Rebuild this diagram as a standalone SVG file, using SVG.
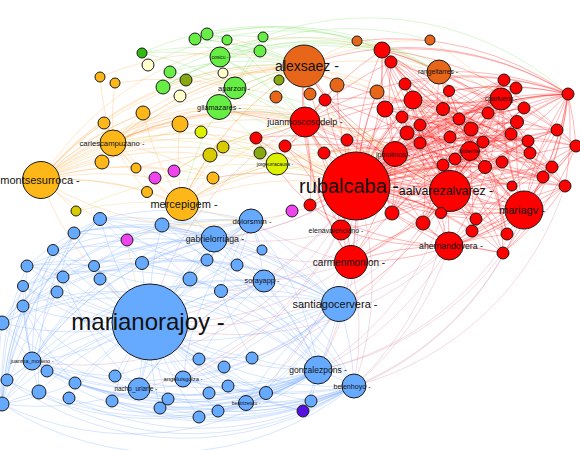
<svg xmlns="http://www.w3.org/2000/svg" width="580" height="450" viewBox="0 0 580 450">
<style>
.n circle{stroke:#1a1a1a;stroke-width:1}
.r{fill:#ff0000}.b{fill:#66aaff}.o{fill:#fdb719}.do{fill:#e8661a}.g{fill:#66ee44}.dg{fill:#33bb11}.ol{fill:#88a811}.y{fill:#d8cc00}.yg{fill:#ddf000}.ly{fill:#ffffcc}.m{fill:#ee44ee}.p{fill:#5511dd}
text{font-family:"Liberation Sans",Arial,sans-serif;text-anchor:middle;fill:#111}
#edges path{fill:none;stroke-width:.75}
.er{stroke:#ff1a1a;stroke-opacity:.42}
.eb{stroke:#7fb0ff;stroke-opacity:.42}
.eo{stroke:#ffa030;stroke-opacity:.34}
.eg{stroke:#80e060;stroke-opacity:.38}
.ep{stroke:#c86a90;stroke-opacity:.32}
.ey{stroke:#d0c830;stroke-opacity:.32}
</style>
<rect width="580" height="450" fill="#fff"/>
<g id="edges">
<path class="er" d="M356 186A300 300 0 0 1 450 191M356 186A300 300 0 0 1 524 210M356 186A300 300 0 0 1 449 246M356 186A300 300 0 0 1 351 262M356 186A300 300 0 0 1 305 122M356 186A300 300 0 0 1 395 154M356 186A300 300 0 0 1 501 99M356 186A300 300 0 0 1 341 230M356 186A300 300 0 0 1 382 50M356 186A300 300 0 0 1 391 62M356 186A300 300 0 0 1 405 84M356 186A300 300 0 0 1 413 100M356 186A300 300 0 0 1 385 109M356 186A300 300 0 0 1 402 117M356 186A300 300 0 0 1 420 125M356 186A300 300 0 0 1 407 133M356 186A300 300 0 0 1 420 143M356 186A300 300 0 0 1 325 100M356 186A300 300 0 0 1 347 140M356 186A300 300 0 0 1 324 153"/>
<path class="er" d="M356 186A300 300 0 0 1 285 146M356 186A300 300 0 0 1 449 91M356 186A300 300 0 0 1 504 80M356 186A300 300 0 0 1 516 88M356 186A300 300 0 0 1 524 108M356 186A300 300 0 0 1 568 94M356 186A300 300 0 0 1 488 113M356 186A300 300 0 0 1 443 109M356 186A300 300 0 0 1 459 119M356 186A300 300 0 0 1 471 129M356 186A300 300 0 0 1 517 122M356 186A300 300 0 0 1 557 130M356 186A300 300 0 0 1 511 134M356 186A300 300 0 0 1 450 137M356 186A300 300 0 0 1 483 142M356 186A300 300 0 0 1 528 141M356 186A300 300 0 0 1 470 151M356 186A300 300 0 0 1 530 153M356 186A300 300 0 0 1 576 146M356 186A300 300 0 0 1 455 159"/>
<path class="er" d="M356 186A300 300 0 0 1 485 167M356 186A300 300 0 0 1 502 162M356 186A300 300 0 0 1 443 165M356 186A300 300 0 0 1 552 167M356 186A300 300 0 0 1 543 177M356 186A300 300 0 0 1 565 186M356 186A300 300 0 0 1 512 186M356 186A300 300 0 0 1 392 213M356 186A300 300 0 0 1 441 213M356 186A300 300 0 0 1 423 223M356 186A300 300 0 0 1 476 219M356 186A300 300 0 0 1 472 231M356 186A300 300 0 0 1 507 234M356 186A300 300 0 0 1 503 253M356 186A300 300 0 0 1 310 205M356 186A300 300 0 0 1 256 138M356 186A300 300 0 0 1 304 66M356 186A300 300 0 0 1 439 72M356 186A300 300 0 0 1 377 92M356 186A300 300 0 0 1 337 85"/>
<path class="er" d="M356 186A300 300 0 0 0 420 125M356 186A300 300 0 0 0 471 129M356 186A300 300 0 0 0 517 122M356 186A300 300 0 0 0 483 142M356 186A300 300 0 0 0 530 153M356 186A300 300 0 0 0 552 167M356 186A300 300 0 0 0 476 219M356 186A300 300 0 0 0 503 253M356 186A300 300 0 0 0 413 100M356 186A300 300 0 0 0 449 91M356 186A300 300 0 0 0 504 80M356 186A300 300 0 0 0 382 50M356 186A300 300 0 0 0 568 94M356 186A300 300 0 0 0 576 146M356 186A300 300 0 0 0 565 186M356 186A300 300 0 0 0 524 108M356 186A300 300 0 0 0 443 109M356 186A300 300 0 0 0 459 119"/>
<path class="er" d="M450 191A300 300 0 0 1 305 122M450 191A300 300 0 0 1 395 154M450 191A300 300 0 0 1 501 99M450 191A300 300 0 0 1 382 50M450 191A300 300 0 0 1 405 84M450 191A300 300 0 0 1 413 100M450 191A300 300 0 0 1 385 109M450 191A300 300 0 0 1 420 125M450 191A300 300 0 0 1 449 91M450 191A300 300 0 0 1 504 80M450 191A300 300 0 0 1 524 108M450 191A300 300 0 0 1 568 94M450 191A300 300 0 0 1 488 113M450 191A300 300 0 0 1 459 119M450 191A300 300 0 0 1 471 129M450 191A300 300 0 0 1 517 122M450 191A300 300 0 0 1 557 130M450 191A300 300 0 0 1 483 142"/>
<path class="er" d="M450 191A300 300 0 0 1 528 141M450 191A300 300 0 0 1 470 151M450 191A300 300 0 0 1 576 146M450 191A300 300 0 0 1 485 167M450 191A300 300 0 0 1 552 167M450 191A300 300 0 0 1 565 186M450 191A300 300 0 0 1 392 213M450 191A300 300 0 0 1 423 223M450 191A300 300 0 0 1 476 219M450 191A300 300 0 0 1 507 234M450 191A300 300 0 0 1 503 253M450 191A300 300 0 0 1 351 262M450 191A300 300 0 0 1 341 230M450 191A300 300 0 0 1 304 66M450 191A300 300 0 0 1 439 72M450 191A300 300 0 0 1 339 304M450 191A300 300 0 0 1 324 153M450 191A300 300 0 0 1 347 140"/>
<path class="er" d="M524 210A300 300 0 0 1 356 186M524 210A300 300 0 0 1 395 154M524 210A300 300 0 0 1 501 99M524 210A300 300 0 0 1 382 50M524 210A300 300 0 0 1 413 100M524 210A300 300 0 0 1 449 91M524 210A300 300 0 0 1 504 80M524 210A300 300 0 0 1 568 94M524 210A300 300 0 0 1 459 119M524 210A300 300 0 0 1 517 122M524 210A300 300 0 0 1 557 130M524 210A300 300 0 0 1 470 151M524 210A300 300 0 0 1 576 146M524 210A300 300 0 0 1 552 167M524 210A300 300 0 0 1 565 186M524 210A300 300 0 0 1 441 213M524 210A300 300 0 0 1 472 231M524 210A300 300 0 0 1 449 246M524 210A300 300 0 0 1 351 262M524 210A300 300 0 0 1 305 122M524 210A300 300 0 0 1 439 72M524 210A300 300 0 0 1 304 66"/>
<path class="er" d="M395 154A300 300 0 0 1 305 122M395 154A300 300 0 0 1 382 50M395 154A300 300 0 0 1 391 62M395 154A300 300 0 0 1 413 100M395 154A300 300 0 0 1 420 143M395 154A300 300 0 0 1 501 99M395 154A300 300 0 0 1 449 91M395 154A300 300 0 0 1 568 94M395 154A300 300 0 0 1 471 129M395 154A300 300 0 0 1 528 141M395 154A300 300 0 0 1 485 167M395 154A300 300 0 0 1 449 246M395 154A300 300 0 0 1 351 262M395 154A300 300 0 0 1 341 230M395 154A300 300 0 0 1 304 66M395 154A300 300 0 0 1 443 165M395 154A300 300 0 0 1 392 213"/>
<path class="er" d="M501 99A300 300 0 0 1 382 50M501 99A300 300 0 0 1 439 72M501 99A300 300 0 0 1 413 100M501 99A300 300 0 0 1 420 125M501 99A300 300 0 0 1 443 109M501 99A300 300 0 0 1 557 130M501 99A300 300 0 0 1 568 94M501 99A300 300 0 0 1 483 142M501 99A300 300 0 0 1 470 151M501 99A300 300 0 0 1 530 153M501 99A300 300 0 0 1 449 246M501 99A300 300 0 0 1 305 122M501 99A300 300 0 0 1 304 66M501 99A300 300 0 0 1 351 262"/>
<path class="er" d="M568 94A300 300 0 0 0 304 66M568 94A300 300 0 0 0 382 50M568 94A300 300 0 0 0 357 41M568 94A300 300 0 0 0 439 72M568 94A300 300 0 0 0 305 122M568 94A300 300 0 0 0 413 100M568 94A300 300 0 0 0 405 84M568 94A300 300 0 0 0 449 91M568 94A300 300 0 0 0 471 129M568 94A300 300 0 0 0 420 143M568 94A300 300 0 0 0 443 165M568 94A300 300 0 0 0 395 154M568 94A300 300 0 0 1 449 246M568 94A300 300 0 0 1 503 253M568 94A300 300 0 0 1 524 210M568 94A300 300 0 0 1 576 146M568 94A300 300 0 0 1 552 167M568 94A300 300 0 0 1 507 234M568 94A300 300 0 0 1 565 186"/>
<path class="er" d="M576 146A300 300 0 0 0 382 50M576 146A300 300 0 0 0 439 72M576 146A300 300 0 0 0 413 100M576 146A300 300 0 0 0 395 154M576 146A300 300 0 0 1 449 246M576 146A300 300 0 0 1 503 253M576 146A300 300 0 0 1 472 231M565 186A300 300 0 0 1 449 246M565 186A300 300 0 0 1 503 253M565 186A300 300 0 0 0 413 100M565 186A300 300 0 0 0 382 50"/>
<path class="er" d="M305 122A300 300 0 0 1 304 66M305 122A300 300 0 0 1 382 50M305 122A300 300 0 0 1 391 62M305 122A300 300 0 0 1 337 85M305 122A300 300 0 0 1 325 100M305 122A300 300 0 0 1 347 140M305 122A300 300 0 0 1 285 146M305 122A300 300 0 0 1 324 153M305 122A300 300 0 0 1 256 138M305 122A300 300 0 0 1 341 230M305 122A300 300 0 0 1 351 262M305 122A300 300 0 0 1 310 205M305 122A300 300 0 0 1 413 100M305 122A300 300 0 0 1 277 164M305 122A300 300 0 0 1 219 107"/>
<path class="er" d="M351 262A300 300 0 0 1 341 230M351 262A300 300 0 0 1 392 213M351 262A300 300 0 0 1 423 223M351 262A300 300 0 0 1 449 246M351 262A300 300 0 0 1 305 122M351 262A300 300 0 0 1 304 66M449 246A300 300 0 0 1 392 213M449 246A300 300 0 0 1 423 223M449 246A300 300 0 0 1 441 213M449 246A300 300 0 0 1 476 219M449 246A300 300 0 0 1 472 231M449 246A300 300 0 0 1 507 234M449 246A300 300 0 0 1 503 253M449 246A300 300 0 0 1 341 230M413 100A300 300 0 0 1 382 50M413 100A300 300 0 0 1 471 129M385 109A300 300 0 0 1 459 119M402 117A300 300 0 0 1 511 134M420 143A300 300 0 0 1 528 141M407 133A300 300 0 0 1 502 162M443 109A300 300 0 0 1 543 177M459 119A300 300 0 0 1 392 213M488 113A300 300 0 0 1 423 223"/>
<path class="er" d="M382 50A300 300 0 0 1 471 129M382 50A300 300 0 0 1 528 141M382 50A300 300 0 0 1 443 165M382 50A300 300 0 0 1 507 234M391 62A300 300 0 0 1 459 119M391 62A300 300 0 0 1 530 153M391 62A300 300 0 0 1 449 246M405 84A300 300 0 0 1 485 167M405 84A300 300 0 0 1 552 167M405 84A300 300 0 0 1 423 223M385 109A300 300 0 0 1 517 122M385 109A300 300 0 0 1 502 162M385 109A300 300 0 0 1 472 231M402 117A300 300 0 0 1 543 177M402 117A300 300 0 0 1 476 219M420 125A300 300 0 0 1 565 186M420 125A300 300 0 0 1 503 253M407 133A300 300 0 0 1 557 130M407 133A300 300 0 0 1 441 213M420 143A300 300 0 0 1 504 80M420 143A300 300 0 0 1 512 186"/>
<path class="er" d="M382 50A300 300 0 0 0 471 129M382 50A300 300 0 0 0 528 141M382 50A300 300 0 0 0 443 165M391 62A300 300 0 0 0 459 119M391 62A300 300 0 0 0 530 153M405 84A300 300 0 0 0 485 167M405 84A300 300 0 0 0 552 167M385 109A300 300 0 0 0 517 122M385 109A300 300 0 0 0 502 162M402 117A300 300 0 0 0 543 177M402 117A300 300 0 0 0 476 219M420 125A300 300 0 0 0 565 186M407 133A300 300 0 0 0 557 130M420 143A300 300 0 0 0 504 80M420 143A300 300 0 0 0 512 186M413 100A300 300 0 0 0 530 153M413 100A300 300 0 0 0 485 167M449 91A300 300 0 0 0 543 177M443 109A300 300 0 0 0 392 213M471 129A300 300 0 0 0 423 223"/>
<path class="er" d="M325 100A300 300 0 0 1 443 109M325 100A300 300 0 0 1 420 143M325 100A300 300 0 0 1 392 213M347 140A300 300 0 0 1 488 113M347 140A300 300 0 0 1 455 159M347 140A300 300 0 0 1 423 223M324 153A300 300 0 0 1 450 137M324 153A300 300 0 0 1 485 167M285 146A300 300 0 0 1 413 100M285 146A300 300 0 0 1 395 154M285 146A300 300 0 0 1 341 230M449 91A300 300 0 0 1 511 134M449 91A300 300 0 0 1 472 231M504 80A300 300 0 0 0 450 137M504 80A300 300 0 0 0 443 165M516 88A300 300 0 0 0 455 159M516 88A300 300 0 0 0 392 213M524 108A300 300 0 0 0 420 143M524 108A300 300 0 0 1 476 219M488 113A300 300 0 0 1 543 177M488 113A300 300 0 0 0 441 213"/>
<path class="er" d="M443 109A300 300 0 0 1 530 153M459 119A300 300 0 0 1 507 234M471 129A300 300 0 0 1 565 186M517 122A300 300 0 0 0 423 223M557 130A300 300 0 0 0 485 167M511 134A300 300 0 0 0 392 213M450 137A300 300 0 0 1 552 167M483 142A300 300 0 0 1 503 253M528 141A300 300 0 0 0 441 213M530 153A300 300 0 0 1 472 231M455 159A300 300 0 0 1 543 177M502 162A300 300 0 0 0 423 223M443 165A300 300 0 0 1 507 234M552 167A300 300 0 0 0 476 219M543 177A300 300 0 0 0 392 213M512 186A300 300 0 0 0 413 100M256 138A300 300 0 0 1 395 154M256 138A300 300 0 0 0 341 230M310 205A300 300 0 0 1 395 154M310 205A300 300 0 0 0 449 246M341 230A300 300 0 0 1 413 100M341 230A300 300 0 0 1 501 99M392 213A300 300 0 0 1 557 130M423 223A300 300 0 0 1 568 94"/>
<path class="ep" d="M356 186A300 300 0 0 1 150 322M356 186A300 300 0 0 1 251 221M356 186A300 300 0 0 1 214 239M356 186A300 300 0 0 1 264 281M356 186A300 300 0 0 1 318 370M356 186A300 300 0 0 1 354 386M356 186A300 300 0 0 1 339 304M356 186A300 300 0 0 1 139 389M356 186A300 300 0 0 1 32 361M356 186A300 300 0 0 1 246 403M356 186A300 300 0 0 1 183 379M450 191A300 300 0 0 1 318 370M450 191A300 300 0 0 1 354 386M450 191A300 300 0 0 1 150 322M524 210A300 300 0 0 1 354 386M524 210A300 300 0 0 1 318 370M524 210A300 300 0 0 1 311 401M449 246A300 300 0 0 1 318 370M449 246A300 300 0 0 1 354 386M449 246A300 300 0 0 1 339 304M449 246A300 300 0 0 1 150 322M351 262A300 300 0 0 1 318 370M351 262A300 300 0 0 1 354 386M351 262A300 300 0 0 1 150 322M351 262A300 300 0 0 1 264 281M351 262A300 300 0 0 1 251 221M351 262A300 300 0 0 1 214 239M305 122A300 300 0 0 0 150 322M395 154A300 300 0 0 1 214 239M565 186A300 300 0 0 1 354 386M503 253A300 300 0 0 1 318 370M341 230A300 300 0 0 1 162 225M392 213A300 300 0 0 1 221 291M423 223A300 300 0 0 1 252 358M356 186A300 300 0 0 0 213 178M450 191A300 300 0 0 0 113 143"/>
<path class="eb" d="M150 322A300 300 0 0 1 339 304M150 322A300 300 0 0 0 318 370M150 322A300 300 0 0 0 354 386M150 322A300 300 0 0 1 251 221M150 322A300 300 0 0 1 214 239M150 322A300 300 0 0 1 264 281M150 322A300 300 0 0 1 32 361M150 322A300 300 0 0 0 139 389M150 322A300 300 0 0 0 183 379M150 322A300 300 0 0 0 246 403M150 322A300 300 0 0 1 100 219M150 322A300 300 0 0 1 74 233M150 322A300 300 0 0 1 162 225M150 322A300 300 0 0 1 53 250M150 322A300 300 0 0 1 27 266M150 322A300 300 0 0 1 94 266M150 322A300 300 0 0 1 142 263M150 322A300 300 0 0 1 262 250M150 322A300 300 0 0 1 207 260M150 322A300 300 0 0 1 237 265M150 322A300 300 0 0 1 190 279M150 322A300 300 0 0 1 221 291M150 322A300 300 0 0 1 63 277"/>
<path class="eb" d="M150 322A300 300 0 0 1 100 279M150 322A300 300 0 0 1 23 286M150 322A300 300 0 0 1 57 292M150 322A300 300 0 0 1 23 306M150 322A300 300 0 0 1 2 323M150 322A300 300 0 0 0 47 371M150 322A300 300 0 0 0 7 380M150 322A300 300 0 0 0 39 392M150 322A300 300 0 0 0 2 404M150 322A300 300 0 0 0 75 383M150 322A300 300 0 0 0 69 398M150 322A300 300 0 0 0 115 376M150 322A300 300 0 0 0 112 401M150 322A300 300 0 0 0 168 399M150 322A300 300 0 0 0 160 408M150 322A300 300 0 0 0 199 417M150 322A300 300 0 0 0 199 359M150 322A300 300 0 0 0 224 367M150 322A300 300 0 0 0 252 358M150 322A300 300 0 0 0 228 386M150 322A300 300 0 0 0 209 393M150 322A300 300 0 0 0 266 393M150 322A300 300 0 0 0 218 411M150 322A300 300 0 0 0 311 401M150 322A300 300 0 0 0 303 411"/>
<path class="eb" d="M318 370A300 300 0 0 0 339 304M318 370A300 300 0 0 1 354 386M318 370A300 300 0 0 0 251 221M318 370A300 300 0 0 0 214 239M318 370A300 300 0 0 0 264 281M318 370A300 300 0 0 1 32 361M318 370A300 300 0 0 1 2 404M318 370A300 300 0 0 1 39 392M318 370A300 300 0 0 1 7 380M318 370A300 300 0 0 1 75 383M318 370A300 300 0 0 1 69 398M318 370A300 300 0 0 1 112 401M318 370A300 300 0 0 1 139 389M318 370A300 300 0 0 1 183 379M318 370A300 300 0 0 1 246 403M318 370A300 300 0 0 1 218 411M318 370A300 300 0 0 1 199 417M318 370A300 300 0 0 1 266 393M318 370A300 300 0 0 1 228 386M318 370A300 300 0 0 1 209 393M318 370A300 300 0 0 1 160 408M318 370A300 300 0 0 1 168 399M318 370A300 300 0 0 0 2 323M318 370A300 300 0 0 0 23 306M318 370A300 300 0 0 0 27 266M318 370A300 300 0 0 0 100 219M318 370A300 300 0 0 0 74 233M318 370A300 300 0 0 1 303 411M318 370A300 300 0 0 1 311 401"/>
<path class="eb" d="M354 386A300 300 0 0 1 2 404M354 386A300 300 0 0 1 39 392M354 386A300 300 0 0 1 7 380M354 386A300 300 0 0 1 69 398M354 386A300 300 0 0 1 112 401M354 386A300 300 0 0 1 139 389M354 386A300 300 0 0 1 160 408M354 386A300 300 0 0 1 199 417M354 386A300 300 0 0 1 218 411M354 386A300 300 0 0 1 246 403M354 386A300 300 0 0 1 266 393M354 386A300 300 0 0 1 32 361M354 386A300 300 0 0 0 2 323M354 386A300 300 0 0 0 23 286M354 386A300 300 0 0 0 53 250M354 386A300 300 0 0 0 339 304M354 386A300 300 0 0 0 214 239M354 386A300 300 0 0 1 303 411M354 386A400 400 0 0 1 75 383M354 386A400 400 0 0 1 183 379"/>
<path class="eb" d="M339 304A300 300 0 0 0 251 221M339 304A300 300 0 0 0 214 239M339 304A300 300 0 0 0 264 281M339 304A300 300 0 0 1 32 361M339 304A300 300 0 0 1 139 389M339 304A300 300 0 0 1 183 379M339 304A300 300 0 0 0 2 323M339 304A300 300 0 0 0 23 306M339 304A300 300 0 0 0 100 219M339 304A300 300 0 0 0 74 233M339 304A300 300 0 0 0 27 266M339 304A300 300 0 0 1 246 403M339 304A300 300 0 0 1 266 393M339 304A300 300 0 0 0 221 291M339 304A300 300 0 0 0 207 260"/>
<path class="eb" d="M32 361A300 300 0 0 1 2 323M32 361A300 300 0 0 1 23 306M32 361A300 300 0 0 1 23 286M32 361A300 300 0 0 1 27 266M32 361A300 300 0 0 1 53 250M32 361A300 300 0 0 1 57 292M32 361A300 300 0 0 1 7 380M32 361A300 300 0 0 0 39 392M32 361A300 300 0 0 0 2 404M32 361A300 300 0 0 1 47 371M32 361A300 300 0 0 0 75 383M32 361A300 300 0 0 0 115 376M32 361A300 300 0 0 0 139 389M32 361A300 300 0 0 1 100 279M32 361A300 300 0 0 1 214 239M32 361A300 300 0 0 1 251 221M32 361A300 300 0 0 1 264 281"/>
<path class="eb" d="M2 404A300 300 0 0 1 2 323M2 404A300 300 0 0 1 23 306M2 404A300 300 0 0 1 23 286M2 404A300 300 0 0 1 27 266M2 404A300 300 0 0 1 53 250M2 404A300 300 0 0 1 74 233M2 404A300 300 0 0 1 100 219M2 404A300 300 0 0 1 57 292M2 404A300 300 0 0 1 39 392M2 404A300 300 0 0 0 75 383M2 404A300 300 0 0 0 139 389M7 380A300 300 0 0 1 53 250M7 380A300 300 0 0 1 100 219M39 392A300 300 0 0 1 74 233M2 323A300 300 0 0 1 100 219M2 323A300 300 0 0 1 162 225"/>
<path class="eb" d="M251 221A300 300 0 0 1 214 239M251 221A300 300 0 0 1 264 281M251 221A300 300 0 0 0 207 260M251 221A300 300 0 0 1 237 265M251 221A300 300 0 0 1 262 250M251 221A300 300 0 0 0 190 279M251 221A300 300 0 0 0 221 291M251 221A300 300 0 0 0 162 225M251 221A300 300 0 0 0 100 219M251 221A300 300 0 0 0 142 263M251 221A300 300 0 0 0 139 389M251 221A300 300 0 0 0 183 379M251 221A300 300 0 0 0 2 323M214 239A300 300 0 0 0 162 225M214 239A300 300 0 0 0 100 219M214 239A300 300 0 0 0 74 233M214 239A300 300 0 0 0 53 250M214 239A300 300 0 0 0 142 263M214 239A300 300 0 0 0 94 266M214 239A300 300 0 0 1 207 260M214 239A300 300 0 0 1 237 265M214 239A300 300 0 0 0 190 279M214 239A300 300 0 0 0 63 277M214 239A300 300 0 0 0 139 389M214 239A300 300 0 0 0 32 361M214 239A300 300 0 0 0 23 306M264 281A300 300 0 0 0 139 389M264 281A300 300 0 0 0 2 404M264 281A300 300 0 0 0 23 286"/>
<path class="eb" d="M100 219A300 300 0 0 1 53 250M100 219A300 300 0 0 0 27 266M100 219A300 300 0 0 1 142 263M100 219A300 300 0 0 1 190 279M74 233A300 300 0 0 1 94 266M74 233A300 300 0 0 0 57 292M74 233A300 300 0 0 1 162 225M162 225A300 300 0 0 1 207 260M162 225A300 300 0 0 1 237 265M162 225A300 300 0 0 0 94 266M142 263A300 300 0 0 1 190 279M142 263A300 300 0 0 0 63 277M142 263A300 300 0 0 1 221 291M27 266A300 300 0 0 1 63 277M27 266A300 300 0 0 1 94 266M23 306A300 300 0 0 0 75 383M23 306A300 300 0 0 0 115 376M47 371A300 300 0 0 0 139 389M47 371A300 300 0 0 0 168 399M75 383A300 300 0 0 0 168 399M75 383A300 300 0 0 0 209 393M115 376A300 300 0 0 1 199 359M115 376A300 300 0 0 0 228 386M112 401A300 300 0 0 0 199 417M112 401A300 300 0 0 0 246 403"/>
<path class="eb" d="M199 359A300 300 0 0 1 252 358M199 359A300 300 0 0 1 264 281M224 367A300 300 0 0 0 266 393M224 367A300 300 0 0 1 339 304M252 358A300 300 0 0 0 318 370M252 358A300 300 0 0 1 221 291M228 386A300 300 0 0 0 303 411M209 393A300 300 0 0 0 311 401M266 393A300 300 0 0 1 339 304M218 411A300 300 0 0 0 354 386M183 379A300 300 0 0 0 266 393M183 379A300 300 0 0 1 339 304M139 389A300 300 0 0 0 246 403M139 389A300 300 0 0 1 264 281M246 403A300 300 0 0 1 339 304M2 323A300 300 0 0 0 318 370M23 286A300 300 0 0 0 339 304M53 250A300 300 0 0 0 264 281M27 266A300 300 0 0 0 251 221M57 292A300 300 0 0 0 183 379M63 277A300 300 0 0 0 139 389M94 266A300 300 0 0 0 199 359"/>
<path class="eo" d="M41 180A300 300 0 0 1 113 143M41 180A300 300 0 0 1 182 204M41 180A300 300 0 0 1 102 162M41 180A300 300 0 0 1 143 113M41 180A300 300 0 0 1 180 124M41 180A300 300 0 0 1 104 123M41 180A300 300 0 0 1 147 192M41 180A300 300 0 0 1 213 178M41 180A300 300 0 0 1 304 66M41 180A300 300 0 0 1 305 122M41 180A300 300 0 0 1 356 186M41 180A300 300 0 0 1 395 154M41 180A300 300 0 0 1 277 164M41 180A300 300 0 0 1 76 211M41 180A300 300 0 0 1 155 178M41 180A300 300 0 0 1 174 171M41 180A300 300 0 0 1 210 155M41 180A300 300 0 0 0 100 219M41 180A300 300 0 0 0 150 322M41 180A300 300 0 0 0 251 221M41 180A300 300 0 0 1 450 191M41 180A300 300 0 0 1 382 50M41 180A300 300 0 0 1 413 100M41 180A300 300 0 0 1 524 210"/>
<path class="eo" d="M113 143A300 300 0 0 0 182 204M113 143A300 300 0 0 1 143 113M113 143A300 300 0 0 1 180 124M113 143A300 300 0 0 1 100 77M113 143A300 300 0 0 1 115 83M113 143A300 300 0 0 1 213 178M113 143A300 300 0 0 1 304 66M113 143A300 300 0 0 1 356 186M113 143A300 300 0 0 1 305 122M113 143A300 300 0 0 1 219 107M113 143A300 300 0 0 1 235 88M113 143A300 300 0 0 0 147 192M113 143A300 300 0 0 0 136 168M113 143A300 300 0 0 1 395 154M113 143A300 300 0 0 1 450 191"/>
<path class="eo" d="M182 204A300 300 0 0 1 143 113M182 204A300 300 0 0 1 180 124M182 204A300 300 0 0 1 213 178M182 204A300 300 0 0 1 147 192M182 204A300 300 0 0 1 210 155M182 204A300 300 0 0 1 223 147M182 204A300 300 0 0 1 277 164M182 204A300 300 0 0 1 356 186M182 204A300 300 0 0 1 305 122M182 204A300 300 0 0 1 304 66M182 204A300 300 0 0 0 251 221M182 204A300 300 0 0 0 214 239M182 204A300 300 0 0 1 450 191M182 204A300 300 0 0 1 395 154M143 113A300 300 0 0 1 304 66M180 124A300 300 0 0 1 356 186M104 123A300 300 0 0 0 182 204M102 162A300 300 0 0 1 304 66M100 77A300 300 0 0 1 304 66M115 83A300 300 0 0 1 235 88M136 168A300 300 0 0 1 356 186M147 192A300 300 0 0 1 305 122M213 178A300 300 0 0 1 356 186M102 162A300 300 0 0 1 395 154M143 113A300 300 0 0 0 41 180"/>
<path class="eo" d="M304 66A300 300 0 0 1 337 85M304 66A300 300 0 0 1 310 94M304 66A300 300 0 0 0 276 97M304 66A300 300 0 0 1 377 92M304 66A300 300 0 0 1 357 41M304 66A300 300 0 0 1 430 40M304 66A300 300 0 0 1 439 72M304 66A300 300 0 0 1 356 186M304 66A300 300 0 0 0 219 107M304 66A300 300 0 0 0 235 88M304 66A300 300 0 0 0 113 143M304 66A300 300 0 0 0 182 204M439 72A300 300 0 0 0 357 41M439 72A300 300 0 0 1 450 191M439 72A300 300 0 0 1 395 154M430 40A300 300 0 0 1 501 99"/>
<path class="eg" d="M163 87A300 300 0 0 1 304 66M163 87A300 300 0 0 1 382 50M163 87A300 300 0 0 1 439 72M170 72A300 300 0 0 1 304 66M170 72A300 300 0 0 1 235 88M170 72A300 300 0 0 1 357 41M220 57A300 300 0 0 1 304 66M220 57A300 300 0 0 1 382 50M220 57A300 300 0 0 1 430 40M220 57A300 300 0 0 1 305 122M220 57A300 300 0 0 1 356 186M235 88A300 300 0 0 1 304 66M235 88A300 300 0 0 1 305 122M235 88A300 300 0 0 1 356 186M235 88A300 300 0 0 1 395 154M235 88A300 300 0 0 0 219 107M235 88A300 300 0 0 1 260 51M235 88A300 300 0 0 1 263 37M219 107A300 300 0 0 1 304 66M219 107A300 300 0 0 1 356 186M219 107A300 300 0 0 1 305 122M219 107A300 300 0 0 1 277 164M219 107A300 300 0 0 0 182 204M195 39A300 300 0 0 1 260 51M195 39A300 300 0 0 1 263 37M195 39A300 300 0 0 1 220 57M195 39A300 300 0 0 1 304 66M207 34A300 300 0 0 1 304 66M207 34A300 300 0 0 1 227 40M142 53A300 300 0 0 1 220 57M142 53A300 300 0 0 1 235 88M142 53A300 300 0 0 1 304 66M142 53A300 300 0 0 1 382 50M148 65A300 300 0 0 1 439 72M163 87A300 300 0 0 1 501 99M195 39A300 300 0 0 1 439 72M220 57A300 300 0 0 1 568 94M207 34A300 300 0 0 1 382 50M227 40A300 300 0 0 1 305 122M260 51A300 300 0 0 1 304 66"/>
<path class="ey" d="M277 164A300 300 0 0 1 356 186M277 164A300 300 0 0 1 395 154M277 164A300 300 0 0 0 210 155M277 164A300 300 0 0 0 223 147M277 164A300 300 0 0 0 201 132M277 164A300 300 0 0 0 182 204M210 155A300 300 0 0 1 305 122M223 147A300 300 0 0 1 356 186M201 132A300 300 0 0 1 304 66M76 211A300 300 0 0 1 182 204M76 211A300 300 0 0 1 213 178M292 211A300 300 0 0 1 356 186M292 211A300 300 0 0 0 150 322M174 171A300 300 0 0 1 305 122M155 178A300 300 0 0 1 356 186M127 240A300 300 0 0 1 251 221M127 240A300 300 0 0 0 150 322M210 155A300 300 0 0 1 450 191M223 147A300 300 0 0 0 113 143M201 132A300 300 0 0 0 41 180"/>
</g>
<g id="n-rubalcaba" class="n"><circle class="r" cx="356" cy="186" r="34"/><text x="349" y="193" font-size="20">rubalcaba -</text></g>
<g id="n-marianorajoy" class="n"><circle class="b" cx="150" cy="322" r="38"/><text x="148" y="330" font-size="24">marianorajoy -</text></g>
<g id="n-alexsaez" class="n"><circle class="do" cx="304" cy="66" r="21"/><text x="307" y="71" font-size="14">alexsaez -</text></g>
<g id="n-aalvarezalvarez" class="n"><circle class="r" cx="450" cy="191" r="20.5"/><text x="446" y="195" font-size="12.4">aalvarezalvarez -</text></g>
<g id="n-mariagv" class="n"><circle class="r" cx="524" cy="210" r="19"/><text x="522" y="214" font-size="11">mariagv -</text></g>
<g id="n-montsesurroca" class="n"><circle class="o" cx="41" cy="180" r="18.5"/><text x="40" y="184" font-size="11">montsesurroca -</text></g>
<g id="n-santiagocervera" class="n"><circle class="b" cx="339" cy="304" r="17.5"/><text x="335" y="308" font-size="11">santiagocervera -</text></g>
<g id="n-carmenmonlon" class="n"><circle class="r" cx="351" cy="262" r="16.5"/><text x="349" y="265.5" font-size="10">carmenmonlon -</text></g>
<g id="n-mercepigem" class="n"><circle class="o" cx="182" cy="204" r="16.5"/><text x="184" y="208" font-size="11">mercepigem -</text></g>
<g id="n-juanmoscosodelp" class="n"><circle class="r" cx="305" cy="122" r="15"/><text x="305" y="125" font-size="9">juanmoscosodelp -</text></g>
<g id="n-ahernandovera" class="n"><circle class="r" cx="449" cy="246" r="14"/><text x="451" y="249" font-size="8.7">ahernandovera -</text></g>
<g id="n-gonzalezpons" class="n"><circle class="b" cx="318" cy="370" r="14"/><text x="318" y="373" font-size="8.5">gonzalezpons -</text></g>
<g id="n-carlescampuzano" class="n"><circle class="o" cx="113" cy="143" r="13"/><text x="112" y="146" font-size="7.7">carlescampuzano -</text></g>
<g id="n-gabrielorriaga" class="n"><circle class="b" cx="214" cy="239" r="13"/><text x="215" y="242" font-size="8.7">gabrielorriaga -</text></g>
<g id="n-gllamazares" class="n"><circle class="g" cx="219" cy="107" r="12.5"/><text x="219" y="110" font-size="7.3">gllamazares -</text></g>
<g id="n-jpmolmos" class="n"><circle class="r" cx="395" cy="154" r="12.5"/><text x="393" y="157" font-size="7">jpmolmos -</text></g>
<g id="n-dolorsmm" class="n"><circle class="b" cx="251" cy="221" r="12"/><text x="252" y="224" font-size="7.8">dolorsmm -</text></g>
<g id="n-belenhoyo" class="n"><circle class="b" cx="354" cy="386" r="12"/><text x="352" y="388.5" font-size="7.1">belenhoyo -</text></g>
<g id="n-rangeltarres" class="n"><circle class="do" cx="439" cy="72" r="12"/><text x="438" y="74" font-size="6.7">rangeltarres -</text></g>
<g id="n-aparzon" class="n"><circle class="g" cx="235" cy="88" r="11"/><text x="234" y="91" font-size="7.6">aparzon -</text></g>
<g id="n-cparlueng" class="n"><circle class="r" cx="501" cy="99" r="11"/><text x="501" y="101" font-size="6.5">cparlueng -</text></g>
<g id="n-sorayapp" class="n"><circle class="b" cx="264" cy="281" r="11"/><text x="262" y="283" font-size="7.4">sorayapp -</text></g>
<g id="n-jorgeurracausa" class="n"><circle class="yg" cx="277" cy="164" r="11"/><text x="275" y="165.5" font-size="5">jorgeurracausa -</text></g>
<g id="n-nacho_uriarte" class="n"><circle class="b" cx="139" cy="389" r="11"/><text x="136" y="391" font-size="6.4">nacho_uriarte -</text></g>
<g id="n-elenavalenciano" class="n"><circle class="r" cx="341" cy="230" r="10"/><text x="336" y="232.5" font-size="7">elenavalenciano -</text></g>
<g id="n-cosicu" class="n"><circle class="g" cx="220" cy="57" r="10"/><text x="220" y="59" font-size="5">cosicu -</text></g>
<g id="n-foldavilla" class="n"><circle class="r" cx="470" cy="151" r="9.5"/><text x="470" y="153" font-size="5">foldavilla -</text></g>
<g id="n-juanma_moreno" class="n"><circle class="b" cx="32" cy="361" r="9"/><text x="32" y="363" font-size="5.5">juanma_moreno -</text></g>
<g id="n-angeluisgoiza" class="n"><circle class="b" cx="183" cy="379" r="8"/><text x="183" y="381" font-size="5.8">angeluisgoiza -</text></g>
<g id="n-beatrizescu" class="n"><circle class="b" cx="246" cy="403" r="7.5"/><text x="246" y="405" font-size="5">beatrizescu -</text></g>
<g id="n-r01" class="n"><circle class="r" cx="382" cy="50" r="8"/></g>
<g id="n-r02" class="n"><circle class="r" cx="391" cy="62" r="6"/></g>
<g id="n-r03" class="n"><circle class="r" cx="405" cy="84" r="6"/></g>
<g id="n-r04" class="n"><circle class="r" cx="413" cy="100" r="9"/></g>
<g id="n-r05" class="n"><circle class="r" cx="385" cy="109" r="8"/></g>
<g id="n-r06" class="n"><circle class="r" cx="402" cy="117" r="6"/></g>
<g id="n-r07" class="n"><circle class="r" cx="420" cy="125" r="6"/></g>
<g id="n-r08" class="n"><circle class="r" cx="407" cy="133" r="7"/></g>
<g id="n-r09" class="n"><circle class="r" cx="420" cy="143" r="6"/></g>
<g id="n-r10" class="n"><circle class="r" cx="325" cy="100" r="6"/></g>
<g id="n-r11" class="n"><circle class="r" cx="347" cy="140" r="6"/></g>
<g id="n-r12" class="n"><circle class="r" cx="324" cy="153" r="6"/></g>
<g id="n-r13" class="n"><circle class="r" cx="285" cy="146" r="6"/></g>
<g id="n-r14" class="n"><circle class="r" cx="449" cy="91" r="5.5"/></g>
<g id="n-r15" class="n"><circle class="r" cx="504" cy="80" r="6"/></g>
<g id="n-r16" class="n"><circle class="r" cx="516" cy="88" r="6"/></g>
<g id="n-r17" class="n"><circle class="r" cx="524" cy="108" r="6"/></g>
<g id="n-r18" class="n"><circle class="r" cx="568" cy="94" r="6"/></g>
<g id="n-r19" class="n"><circle class="r" cx="488" cy="113" r="6"/></g>
<g id="n-r20" class="n"><circle class="r" cx="443" cy="109" r="6.5"/></g>
<g id="n-r21" class="n"><circle class="r" cx="459" cy="119" r="6"/></g>
<g id="n-r22" class="n"><circle class="r" cx="471" cy="129" r="7"/></g>
<g id="n-r23" class="n"><circle class="r" cx="517" cy="122" r="6.5"/></g>
<g id="n-r24" class="n"><circle class="r" cx="557" cy="130" r="6"/></g>
<g id="n-r25" class="n"><circle class="r" cx="511" cy="134" r="6"/></g>
<g id="n-r26" class="n"><circle class="r" cx="450" cy="137" r="6"/></g>
<g id="n-r27" class="n"><circle class="r" cx="483" cy="142" r="6"/></g>
<g id="n-r28" class="n"><circle class="r" cx="528" cy="141" r="6"/></g>
<g id="n-r29" class="n"><circle class="r" cx="530" cy="153" r="6"/></g>
<g id="n-r30" class="n"><circle class="r" cx="576" cy="146" r="6"/></g>
<g id="n-r31" class="n"><circle class="r" cx="455" cy="159" r="6"/></g>
<g id="n-r32" class="n"><circle class="r" cx="485" cy="167" r="6.5"/></g>
<g id="n-r33" class="n"><circle class="r" cx="502" cy="162" r="6"/></g>
<g id="n-r34" class="n"><circle class="r" cx="443" cy="165" r="6"/></g>
<g id="n-r35" class="n"><circle class="r" cx="552" cy="167" r="6"/></g>
<g id="n-r36" class="n"><circle class="r" cx="543" cy="177" r="6"/></g>
<g id="n-r37" class="n"><circle class="r" cx="565" cy="186" r="6"/></g>
<g id="n-r38" class="n"><circle class="r" cx="512" cy="186" r="5"/></g>
<g id="n-r39" class="n"><circle class="r" cx="392" cy="213" r="7"/></g>
<g id="n-r40" class="n"><circle class="r" cx="441" cy="213" r="5.5"/></g>
<g id="n-r41" class="n"><circle class="r" cx="423" cy="223" r="7"/></g>
<g id="n-r42" class="n"><circle class="r" cx="476" cy="219" r="6"/></g>
<g id="n-r43" class="n"><circle class="r" cx="472" cy="231" r="6"/></g>
<g id="n-r44" class="n"><circle class="r" cx="507" cy="234" r="6"/></g>
<g id="n-r45" class="n"><circle class="r" cx="503" cy="253" r="6"/></g>
<g id="n-r46" class="n"><circle class="r" cx="310" cy="205" r="6"/></g>
<g id="n-r47" class="n"><circle class="r" cx="256" cy="138" r="6"/></g>
<g id="n-do1" class="n"><circle class="do" cx="357" cy="41" r="5"/></g>
<g id="n-do2" class="n"><circle class="do" cx="430" cy="40" r="5"/></g>
<g id="n-do3" class="n"><circle class="do" cx="337" cy="85" r="7"/></g>
<g id="n-do4" class="n"><circle class="do" cx="310" cy="94" r="6"/></g>
<g id="n-do5" class="n"><circle class="do" cx="276" cy="97" r="6"/></g>
<g id="n-do6" class="n"><circle class="do" cx="377" cy="92" r="7"/></g>
<g id="n-o1" class="n"><circle class="o" cx="100" cy="77" r="5"/></g>
<g id="n-o2" class="n"><circle class="o" cx="115" cy="83" r="5"/></g>
<g id="n-o3" class="n"><circle class="o" cx="143" cy="113" r="7"/></g>
<g id="n-o4" class="n"><circle class="o" cx="180" cy="124" r="8"/></g>
<g id="n-o5" class="n"><circle class="o" cx="104" cy="123" r="6"/></g>
<g id="n-o6" class="n"><circle class="o" cx="102" cy="162" r="7"/></g>
<g id="n-o7" class="n"><circle class="o" cx="136" cy="168" r="5"/></g>
<g id="n-o8" class="n"><circle class="o" cx="147" cy="192" r="5.5"/></g>
<g id="n-o9" class="n"><circle class="o" cx="213" cy="178" r="6"/></g>
<g id="n-y1" class="n"><circle class="y" cx="76" cy="211" r="5"/></g>
<g id="n-y2" class="n"><circle class="y" cx="210" cy="155" r="7"/></g>
<g id="n-y3" class="n"><circle class="y" cx="223" cy="147" r="6"/></g>
<g id="n-y4" class="n"><circle class="yg" cx="201" cy="132" r="6"/></g>
<g id="n-ly1" class="n"><circle class="ly" cx="148" cy="65" r="6"/></g>
<g id="n-ly2" class="n"><circle class="ly" cx="180" cy="96" r="6"/></g>
<g id="n-ly3" class="n"><circle class="ly" cx="223" cy="73" r="5"/></g>
<g id="n-g1" class="n"><circle class="g" cx="170" cy="72" r="6"/></g>
<g id="n-g2" class="n"><circle class="g" cx="163" cy="87" r="7"/></g>
<g id="n-g3" class="n"><circle class="g" cx="195" cy="39" r="6"/></g>
<g id="n-g4" class="n"><circle class="g" cx="207" cy="34" r="6"/></g>
<g id="n-g5" class="n"><circle class="g" cx="227" cy="40" r="5"/></g>
<g id="n-g6" class="n"><circle class="g" cx="263" cy="37" r="5"/></g>
<g id="n-g7" class="n"><circle class="g" cx="260" cy="51" r="6"/></g>
<g id="n-dg1" class="n"><circle class="dg" cx="142" cy="53" r="5"/></g>
<g id="n-ol1" class="n"><circle class="ol" cx="186" cy="80" r="6"/></g>
<g id="n-ol2" class="n"><circle class="ol" cx="260" cy="153" r="6"/></g>
<g id="n-ol3" class="n"><circle class="ol" cx="279" cy="80" r="5"/></g>
<g id="n-m1" class="n"><circle class="m" cx="174" cy="171" r="6"/></g>
<g id="n-m2" class="n"><circle class="m" cx="155" cy="178" r="6"/></g>
<g id="n-m3" class="n"><circle class="m" cx="127" cy="240" r="6"/></g>
<g id="n-m4" class="n"><circle class="m" cx="292" cy="211" r="6"/></g>
<g id="n-b01" class="n"><circle class="b" cx="100" cy="219" r="6.5"/></g>
<g id="n-b02" class="n"><circle class="b" cx="74" cy="233" r="6"/></g>
<g id="n-b03" class="n"><circle class="b" cx="162" cy="225" r="7"/></g>
<g id="n-b04" class="n"><circle class="b" cx="53" cy="250" r="5.5"/></g>
<g id="n-b05" class="n"><circle class="b" cx="27" cy="266" r="6"/></g>
<g id="n-b06" class="n"><circle class="b" cx="94" cy="266" r="5.5"/></g>
<g id="n-b07" class="n"><circle class="b" cx="142" cy="263" r="6.5"/></g>
<g id="n-b08" class="n"><circle class="b" cx="262" cy="250" r="5"/></g>
<g id="n-b09" class="n"><circle class="b" cx="207" cy="260" r="6"/></g>
<g id="n-b10" class="n"><circle class="b" cx="237" cy="265" r="6"/></g>
<g id="n-b11" class="n"><circle class="b" cx="190" cy="279" r="7"/></g>
<g id="n-b12" class="n"><circle class="b" cx="221" cy="291" r="6.5"/></g>
<g id="n-b13" class="n"><circle class="b" cx="63" cy="277" r="6"/></g>
<g id="n-b14" class="n"><circle class="b" cx="100" cy="279" r="6"/></g>
<g id="n-b15" class="n"><circle class="b" cx="23" cy="286" r="5.5"/></g>
<g id="n-b16" class="n"><circle class="b" cx="57" cy="292" r="6"/></g>
<g id="n-b17" class="n"><circle class="b" cx="23" cy="306" r="6"/></g>
<g id="n-b18" class="n"><circle class="b" cx="2" cy="323" r="7"/></g>
<g id="n-b19" class="n"><circle class="b" cx="47" cy="371" r="6"/></g>
<g id="n-b20" class="n"><circle class="b" cx="7" cy="380" r="6"/></g>
<g id="n-b21" class="n"><circle class="b" cx="39" cy="392" r="7"/></g>
<g id="n-b22" class="n"><circle class="b" cx="2" cy="404" r="7"/></g>
<g id="n-b23" class="n"><circle class="b" cx="75" cy="383" r="6"/></g>
<g id="n-b24" class="n"><circle class="b" cx="69" cy="398" r="6"/></g>
<g id="n-b25" class="n"><circle class="b" cx="115" cy="376" r="6"/></g>
<g id="n-b26" class="n"><circle class="b" cx="112" cy="401" r="6"/></g>
<g id="n-b27" class="n"><circle class="b" cx="168" cy="399" r="6"/></g>
<g id="n-b28" class="n"><circle class="b" cx="160" cy="408" r="6"/></g>
<g id="n-b29" class="n"><circle class="b" cx="199" cy="417" r="6"/></g>
<g id="n-b30" class="n"><circle class="b" cx="199" cy="359" r="6"/></g>
<g id="n-b31" class="n"><circle class="b" cx="224" cy="367" r="6"/></g>
<g id="n-b32" class="n"><circle class="b" cx="252" cy="358" r="6"/></g>
<g id="n-b33" class="n"><circle class="b" cx="228" cy="386" r="6"/></g>
<g id="n-b34" class="n"><circle class="b" cx="209" cy="393" r="6"/></g>
<g id="n-b35" class="n"><circle class="b" cx="266" cy="393" r="6.5"/></g>
<g id="n-b36" class="n"><circle class="b" cx="218" cy="411" r="6"/></g>
<g id="n-b37" class="n"><circle class="b" cx="311" cy="401" r="6"/></g>
<g id="n-p1" class="n"><circle class="p" cx="303" cy="411" r="6"/></g>
</svg>
